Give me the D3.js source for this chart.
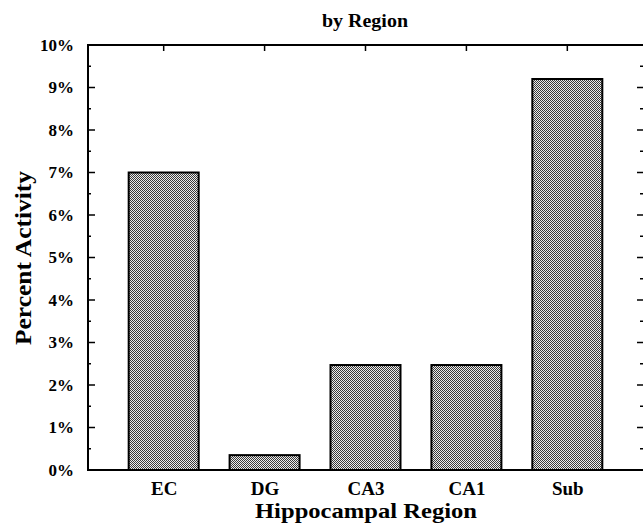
<!DOCTYPE html>
<html>
<head>
<meta charset="utf-8">
<script src="https://cdn.jsdelivr.net/npm/d3@7"></script>
<style>
html,body{margin:0;padding:0;background:#fff;}
svg{display:block;}
text{font-family:"Liberation Serif","Times New Roman",serif;font-weight:bold;fill:#000;}
</style>
</head>
<body>
<svg id="chart" width="643" height="525"></svg>
<script>
const categories = ["EC", "DG", "CA3", "CA1", "Sub"];
const values = [7.0, 0.35, 2.47, 2.47, 9.2];
const yTicks = [0, 1, 2, 3, 4, 5, 6, 7, 8, 9, 10];
const yMinorTicks = [0.5, 1.5, 2.5, 3.5, 4.5, 5.5, 6.5, 7.5, 8.5, 9.5];
const title = "by Region";
const xTitle = "Hippocampal Region";
const yTitle = "Percent Activity";

const svg = d3.select("#chart");
const m = {left: 88, right: 643, top: 45, bottom: 470};

const x = d3.scalePoint().domain(categories).range([m.left, m.right]).padding(0.75);
const y = d3.scaleLinear().domain([0, 10]).range([m.bottom, m.top]);
const barW = 70;

// pattern
const defs = svg.append("defs");
const pat = defs.append("pattern").attr("id", "dots").attr("patternUnits", "userSpaceOnUse")
  .attr("width", 2).attr("height", 2);
pat.append("rect").attr("width", 2).attr("height", 2).attr("fill", "#ececec");
pat.append("rect").attr("x", 0).attr("y", 0).attr("width", 1).attr("height", 1).attr("fill", "#3a3a3a");
pat.append("rect").attr("x", 1).attr("y", 1).attr("width", 1).attr("height", 1).attr("fill", "#3a3a3a");

// bars
svg.append("g").selectAll("rect").data(categories).join("rect")
  .attr("x", d => x(d) - barW / 2)
  .attr("y", (d, i) => y(values[i]))
  .attr("width", barW)
  .attr("height", (d, i) => y(0) - y(values[i]))
  .attr("fill", "url(#dots)")
  .attr("stroke", "#000")
  .attr("stroke-width", 2);

// left axis labels
const left = svg.append("g").attr("transform", `translate(${m.left},0)`)
  .call(d3.axisLeft(y).tickValues(yTicks).tickFormat(d => d + "%").tickSize(0).tickPadding(14));
left.select(".domain").remove();
left.selectAll("text").style("font-size", "17px").style("font-family", "'Liberation Serif',serif").style("font-weight", "bold");
// major inner ticks
svg.append("g").selectAll("line").data(yTicks.slice(1, -1)).join("line")
  .attr("x1", m.left).attr("x2", m.left + 7)
  .attr("y1", d => y(d)).attr("y2", d => y(d))
  .attr("stroke", "#000").attr("stroke-width", 1.5);
svg.append("g").selectAll("line").data(yMinorTicks).join("line")
  .attr("x1", m.left).attr("x2", m.left + 3)
  .attr("y1", d => y(d)).attr("y2", d => y(d))
  .attr("stroke", "#000").attr("stroke-width", 1.5);

// right ticks (inward)
svg.append("g").selectAll("line").data(yTicks.slice(1, -1)).join("line")
  .attr("x1", m.right - 6).attr("x2", m.right)
  .attr("y1", d => y(d)).attr("y2", d => y(d))
  .attr("stroke", "#000").attr("stroke-width", 1.5);
svg.append("g").selectAll("line").data(yMinorTicks).join("line")
  .attr("x1", m.right - 3).attr("x2", m.right)
  .attr("y1", d => y(d)).attr("y2", d => y(d))
  .attr("stroke", "#000").attr("stroke-width", 1.5);

// top ticks
svg.append("g").selectAll("line").data(categories).join("line")
  .attr("x1", d => x(d)).attr("x2", d => x(d))
  .attr("y1", m.top).attr("y2", m.top + 6)
  .attr("stroke", "#000").attr("stroke-width", 1.5);

// frame lines
svg.append("line").attr("x1", m.left).attr("x2", m.left).attr("y1", m.top - 1).attr("y2", m.bottom + 1)
  .attr("stroke", "#000").attr("stroke-width", 2);
svg.append("line").attr("x1", m.left - 1).attr("x2", m.right).attr("y1", m.top).attr("y2", m.top)
  .attr("stroke", "#000").attr("stroke-width", 2);
svg.append("line").attr("x1", m.left - 1).attr("x2", m.right).attr("y1", m.bottom).attr("y2", m.bottom)
  .attr("stroke", "#000").attr("stroke-width", 2);

// bottom axis labels
const bottom = svg.append("g").attr("transform", `translate(0,${m.bottom})`)
  .call(d3.axisBottom(x).tickSize(0).tickPadding(12));
bottom.select(".domain").remove();
bottom.selectAll("text").style("font-size", "19px").style("font-family", "'Liberation Serif',serif").style("font-weight", "bold");

// titles
svg.append("text").attr("x", 365).attr("y", 27).attr("text-anchor", "middle")
  .style("font-size", "19px").attr("textLength", 86).attr("lengthAdjust", "spacingAndGlyphs").text(title);
svg.append("text").attr("x", 366).attr("y", 518).attr("text-anchor", "middle")
  .style("font-size", "22px").attr("textLength", 222).attr("lengthAdjust", "spacingAndGlyphs").text(xTitle);
svg.append("text").attr("transform", `translate(31,258) rotate(-90)`)
  .attr("text-anchor", "middle").style("font-size", "23px")
  .attr("textLength", 174).attr("lengthAdjust", "spacingAndGlyphs").text(yTitle);
</script>
</body>
</html>
